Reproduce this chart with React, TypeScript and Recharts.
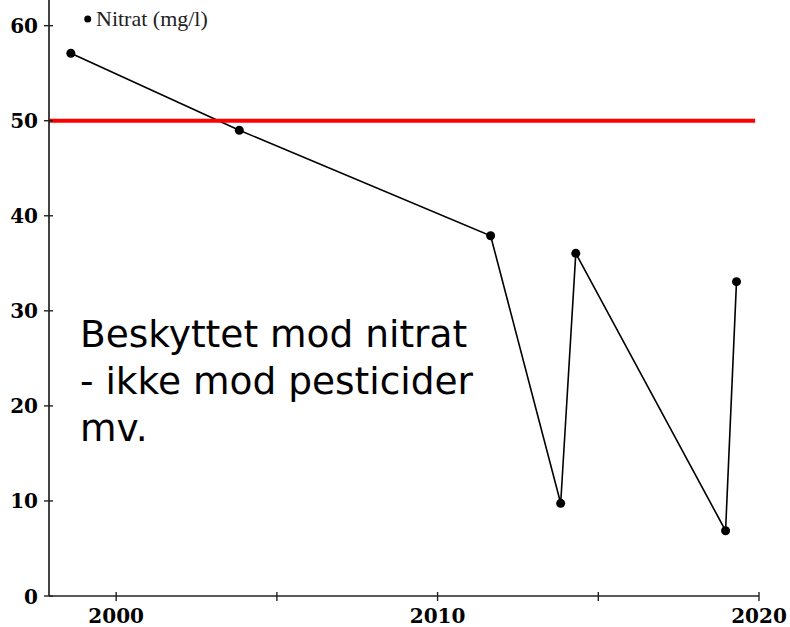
import React from 'react';
import { LineChart, Line, XAxis, YAxis, ReferenceLine } from 'recharts';

const years = [1998.59, 2003.83, 2011.65, 2013.83, 2014.3, 2018.96, 2019.3];
const nitrat = [57.1, 49.0, 37.9, 9.75, 36.05, 6.87, 33.07];
const xTicks = [2000, 2005, 2010, 2015, 2020];
const yTicks = [0, 10, 20, 30, 40, 50, 60];
const limitValue = 50;
const seriesName = 'Nitrat (mg/l)';
const noteLines = ['Beskyttet mod nitrat', '- ikke mod pesticider', 'mv.'];

const data = years.map((year, i) => ({ year, nitrat: nitrat[i] }));

const XMIN = 1997.91;
const XMAX = 2020;
const YMAX = 62.7;

const XTick = (props: any) => {
  const { x, y, payload } = props;
  const v = payload.value;
  return (
    <g>
      <line x1={x} x2={x} y1={y - 4} y2={y + 5} stroke="#222" strokeWidth={1.4} />
      {v % 10 === 0 && (
        <text x={x} y={y + 27} textAnchor="middle" fontFamily="DejaVu Serif" fontWeight="bold" fontSize={20} fill="#000">
          {v}
        </text>
      )}
    </g>
  );
};

const YTick = (props: any) => {
  const { x, y, payload } = props;
  return (
    <g>
      <line x1={x - 5} x2={x + 4} y1={y} y2={y} stroke="#222" strokeWidth={1.4} />
      <text x={x - 11} y={y + 7.5} textAnchor="end" fontFamily="DejaVu Serif" fontWeight="bold" fontSize={20} fill="#000">
        {payload.value}
      </text>
    </g>
  );
};

export default function App() {
  return (
    <div style={{ position: 'absolute', left: 0, top: 0, width: 790, height: 627, background: '#fff' }}>
      <LineChart width={790} height={627} data={data} margin={{ top: 0, right: 31, bottom: 1, left: 0 }}>
        <XAxis
          type="number"
          dataKey="year"
          domain={[XMIN, XMAX]}
          ticks={xTicks}
          allowDataOverflow
          height={30}
          tickSize={0}
          tickMargin={0}
          tickLine={false}
          axisLine={{ stroke: '#222', strokeWidth: 1.7 }}
          tick={XTick}
          interval={0}
        />
        <YAxis
          type="number"
          domain={[0, YMAX]}
          ticks={yTicks}
          allowDataOverflow
          width={49}
          tickSize={0}
          tickMargin={0}
          tickLine={false}
          axisLine={{ stroke: '#222', strokeWidth: 1.7 }}
          tick={YTick}
          interval={0}
        />
        <Line
          type="linear"
          dataKey="nitrat"
          stroke="#000"
          strokeWidth={1.6}
          dot={{ r: 4.5, fill: '#000', stroke: '#000', strokeWidth: 0 }}
          isAnimationActive={false}
        />
        <ReferenceLine
          segment={[{ x: XMIN, y: limitValue }, { x: 2019.88, y: limitValue }]}
          stroke="#ff0000"
          strokeWidth={4}
        />
      </LineChart>
      <svg width={790} height={627} style={{ position: 'absolute', left: 0, top: 0, pointerEvents: 'none' }}>
        <circle cx={87.7} cy={19} r={3.5} fill="#000" />
        <text x={96} y={26} fontFamily="Liberation Serif" fontSize={22} fill="#222">
          {seriesName}
        </text>
        {noteLines.map((t, i) => (
          <text key={i} x={80} y={347 + i * 47} fontFamily="DejaVu Sans" fontSize={37.5} fill="#000">
            {t}
          </text>
        ))}
      </svg>
    </div>
  );
}
